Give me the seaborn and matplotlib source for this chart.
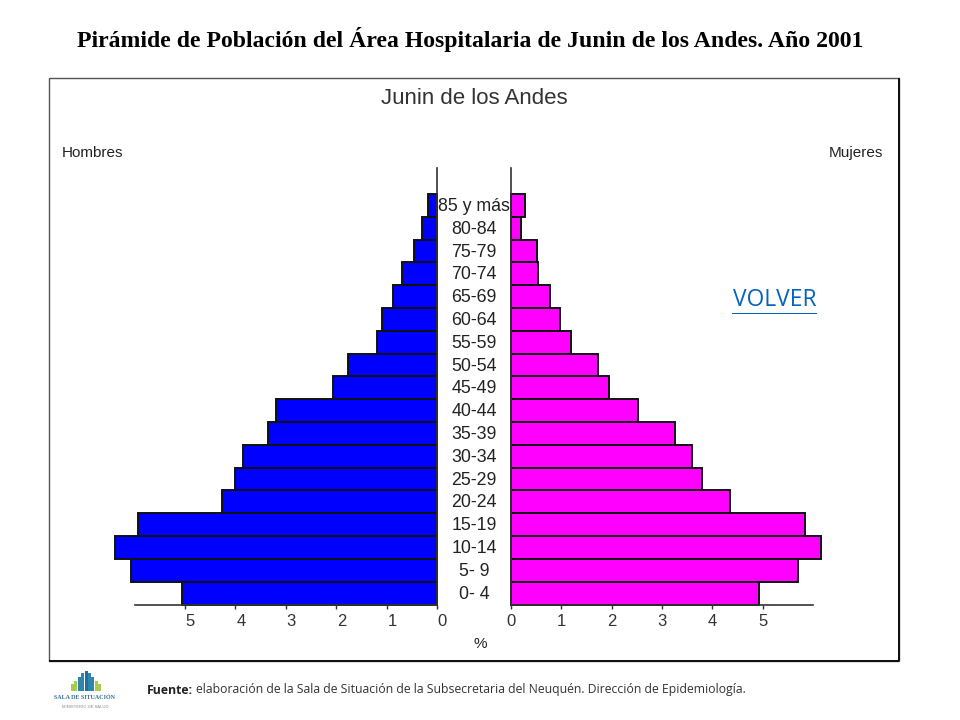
import matplotlib
matplotlib.use("Agg")
import matplotlib.pyplot as plt
import pandas as pd
import seaborn as sns
from matplotlib.patches import Rectangle
from matplotlib.transforms import ScaledTranslation

ages = ["85 y más", "80-84", "75-79", "70-74", "65-69", "60-64", "55-59", "50-54", "45-49",
        "40-44", "35-39", "30-34", "25-29", "20-24", "15-19", "10-14", "5- 9", "0- 4"]
hombres = [0.18, 0.30, 0.45, 0.70, 0.87, 1.10, 1.19, 1.76, 2.06,
           3.20, 3.36, 3.85, 4.00, 4.27, 5.93, 6.38, 6.07, 5.06]
mujeres = [0.28, 0.20, 0.52, 0.54, 0.77, 0.97, 1.19, 1.73, 1.94,
           2.52, 3.25, 3.59, 3.79, 4.36, 5.85, 6.15, 5.71, 4.92]
xticks = [0, 1, 2, 3, 4, 5]

W, H = 960, 720
sns.set_theme(style="white")
plt.rcParams["font.family"] = ["Liberation Sans", "DejaVu Sans"]
fig = plt.figure(figsize=(W / 100, H / 100), dpi=100, facecolor="white")


def px_axes(x0, y0, x1, y1):
    return fig.add_axes([x0 / W, 1 - y1 / H, (x1 - x0) / W, (y1 - y0) / H], facecolor="none", zorder=2)


def ftext(x, y, s, **kw):
    return fig.text(x / W, 1 - y / H, s, zorder=5, **kw)


def frect(x0, y0, x1, y1, **kw):
    fig.add_artist(Rectangle((x0 / W, 1 - y1 / H), (x1 - x0) / W, (y1 - y0) / H,
                             transform=fig.transFigure, **kw))


# chart frame, kept behind the axes
frect(49, 78, 899, 661, fc="white", ec="#555555", lw=1.0, zorder=-2)
frect(49, 659.5, 899, 661.5, fc="#111111", ec="none", zorder=-1)
frect(897.5, 78, 899.5, 661, fc="#111111", ec="none", zorder=-1)

df = pd.DataFrame({"Edad": ages, "Hombres": hombres, "Mujeres": mujeres})
TOP, BOTTOM = 168, 604.5
row = (BOTTOM - 194) / len(ages)
ylim = (len(ages) - 0.5, -0.5 - (194 - TOP) / row)

axL = px_axes(134.5, TOP, 437, BOTTOM)
axR = px_axes(511, TOP, 813, BOTTOM)
for ax, col, color, xlim in ((axL, "Hombres", "#0000FF", (6, 0)), (axR, "Mujeres", "#FF00FF", (0, 6))):
    sns.barplot(data=df, y="Edad", x=col, order=ages, color=color, width=1, saturation=1,
                edgecolor="#111111", linewidth=1.4, ax=ax, clip_on=False)
    ax.set_xlim(*xlim)
    ax.set_ylim(*ylim)
    ax.set_xticks(xticks)
    ax.set_xticklabels([str(t) for t in xticks], fontsize=12, color="#333333")
    ax.set_xlabel("")
    ax.set_ylabel("")
    ax.tick_params(axis="x", bottom=True, length=3, width=1, color="#333333", pad=3.5)
    ax.set_yticks([])
    sns.despine(ax=ax, top=True, left=col == "Hombres", right=col == "Mujeres")
    for s in ("bottom", "left", "right"):
        ax.spines[s].set_color("#333333")
        ax.spines[s].set_linewidth(1.2)

# the men's tick labels sit a little to the right of their ticks
shift = ScaledTranslation(5.5 / 100, 0, fig.dpi_scale_trans)
for lab in axL.get_xticklabels():
    lab.set_transform(lab.get_transform() + shift)

for i, a in enumerate(ages):
    y = 194 + row * (i + 0.5) + 1
    ftext(474, y, a, ha="center", va="center", fontsize=12.8, color="#222222")

ftext(470.5, 39, "Pirámide de Población del Área Hospitalaria de Junin de los Andes. Año 2001",
      ha="center", va="center", fontsize=17.15, fontweight="bold", family=["Liberation Serif"], color="black")
ftext(474, 98, "Junin de los Andes", ha="center", va="center", fontsize=16, color="#333333")
ftext(62, 153, "Hombres", ha="left", va="center", fontsize=11, color="#222222")
ftext(883, 153, "Mujeres", ha="right", va="center", fontsize=11, color="#222222")
ftext(480, 644, "%", ha="center", va="center", fontsize=11, color="#222222")
ftext(774.5, 300.5, "VOLVER", ha="center", va="center", fontsize=16.4, color="#0563C1",
      family=["Open Sans"])
frect(732, 312.8, 817, 314, fc="#0563C1", ec="none")

ftext(147, 690, "Fuente:", ha="left", va="center", fontsize=8.8, fontweight="bold",
      family=["Open Sans"], color="#222222")
ftext(196, 690, "elaboración de la Sala de Situación de la Subsecretaria del Neuquén. Dirección de Epidemiología.",
      ha="left", va="center", fontsize=8.8, family=["Open Sans"], color="#333333")

# logo
logo_heights = [10, 14, 20, 26, 28, 26, 20, 14, 10]
logo_cols = ["#A9C94F", "#A9C94F", "#2E86AB", "#2E86AB", "#1F6F9F", "#2E86AB", "#2E86AB", "#A9C94F", "#A9C94F"]
for i, (h, c) in enumerate(zip(logo_heights, logo_cols)):
    x0 = 71 + i * 3.4
    frect(x0, 691 - h * 0.7, x0 + 3, 691, fc=c, ec="none")
ftext(85, 697.5, "SALA DE SITUACIÓN", ha="center", va="center", fontsize=4.3, fontweight="bold",
      family=["Liberation Serif"], color="#2E6E8E")
ftext(85, 707, "MINISTERIO DE SALUD", ha="center", va="center", fontsize=3, color="#888888")

fig.savefig("out.png", dpi=100, facecolor="white")
